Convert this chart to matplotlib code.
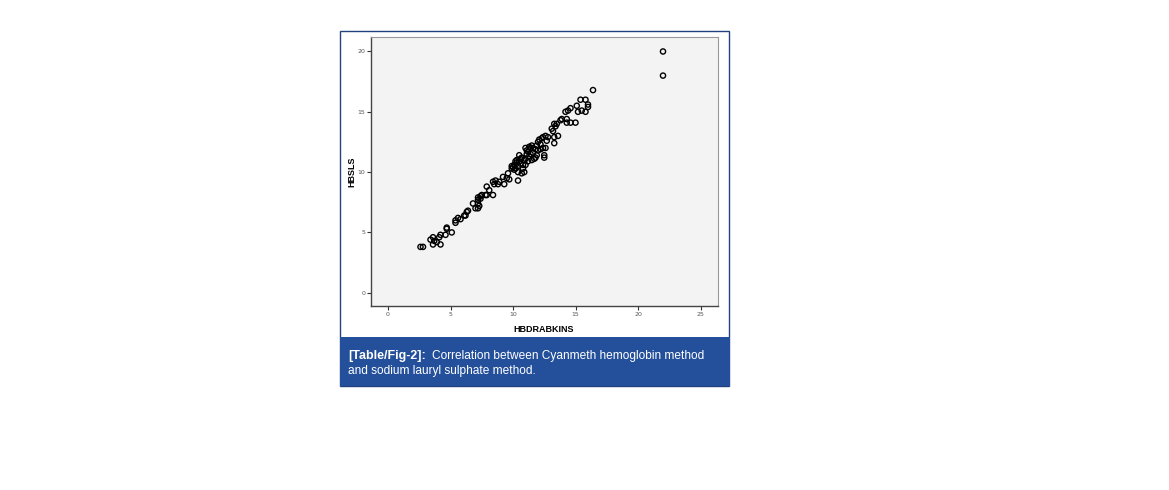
import matplotlib.pyplot as plt
from matplotlib.patches import Rectangle

# HB by Drabkin's (cyanmeth) method vs HB by sodium lauryl sulphate method
hb_drabkins = [
    2.6, 2.8, 3.4, 3.6, 3.7, 3.6, 3.9, 4.1, 4.2, 4.2, 4.6, 4.7, 4.7, 5.1,
    5.4, 5.4, 5.6, 5.8, 6.1, 6.2, 6.3, 6.4, 6.8, 7.0, 7.2, 7.2, 7.2, 7.2,
    7.3, 7.4, 7.4, 7.5, 7.8, 7.9, 8.1, 7.9, 8.4, 8.4, 8.5, 8.6, 8.8, 8.9,
    9.2, 9.3, 9.5, 9.6, 9.7, 9.9, 9.9, 10.0, 10.1, 10.2, 10.3, 10.3, 10.4,
    10.4, 10.4, 10.5, 10.5, 10.6, 10.6, 10.7, 10.8, 10.8, 10.9, 10.9, 11.0,
    11.0, 11.1, 11.1, 11.2, 11.2, 11.3, 11.4, 11.4, 11.5, 11.5, 11.6, 11.7,
    11.8, 11.9, 12.0, 12.0, 12.1, 12.2, 12.3, 12.4, 12.4, 12.5, 12.5, 12.6,
    12.6, 12.7, 10.2, 10.7, 11.3, 11.6, 11.9, 12.2, 11.0, 10.1, 12.8, 11.8,
    13.1, 13.2, 13.3, 13.3, 13.3, 13.4, 13.5, 13.6, 13.8, 13.9, 14.2, 14.3,
    14.3, 14.4, 14.6, 14.6, 15.0, 15.1, 15.2, 15.4, 15.5, 15.8, 15.8, 16.0,
    16.0, 16.4, 22.0, 22.0,
]
hb_sls = [
    3.8, 3.8, 4.4, 4.6, 4.3, 4.0, 4.2, 4.6, 4.8, 4.0, 4.8, 5.3, 5.4, 5.0,
    5.8, 6.0, 6.2, 6.1, 6.4, 6.4, 6.7, 6.8, 7.4, 7.0, 7.0, 7.4, 7.7, 7.9,
    7.2, 7.8, 8.0, 8.1, 8.1, 8.1, 8.5, 8.8, 8.1, 9.2, 9.0, 9.3, 9.0, 9.2,
    9.6, 9.0, 9.5, 9.9, 9.4, 10.3, 10.5, 10.4, 10.6, 10.3, 10.8, 11.0, 10.5,
    10.0, 9.3, 10.9, 11.4, 10.7, 11.1, 9.9, 10.3, 10.6, 11.0, 10.0, 11.1,
    12.0, 11.5, 11.8, 10.9, 11.7, 12.1, 12.0, 11.5, 11.0, 12.2, 11.6, 11.1,
    11.9, 12.2, 11.8, 12.5, 12.7, 12.3, 12.8, 12.9, 12.0, 11.4, 11.2, 12.0,
    13.0, 12.6, 10.9, 11.2, 11.3, 12.0, 11.4, 11.9, 10.6, 10.2, 12.9, 11.2,
    13.6, 13.4, 14.0, 12.9, 12.4, 13.8, 14.0, 13.0, 14.3, 14.4, 15.0, 14.4,
    14.1, 15.1, 14.1, 15.3, 14.1, 15.5, 15.0, 16.0, 15.1, 16.0, 15.0, 15.4,
    15.6, 16.8, 20.0, 18.0,
]

x_ticks = [0, 5, 10, 15, 20, 25]
y_ticks = [0, 5, 10, 15, 20]

W, H = 1169, 490
fig = plt.figure(figsize=(W / 100, H / 100), dpi=100)


# figure pixel box (top-left origin) -> figure fractions
def px(x0, y0, x1, y1):
    return (x0 / W, 1 - y1 / H), (x1 - x0) / W, (y1 - y0) / H


# outer panel frame and caption box, kept behind the axes
xy, w, h = px(339.5, 31.5, 729, 386)
fig.patches.append(Rectangle(xy, w, h, transform=fig.transFigure, zorder=-2,
                             facecolor="white", edgecolor="#23417f", linewidth=1.0))
xy, w, h = px(340, 337, 729.5, 386)
fig.patches.append(Rectangle(xy, w, h, transform=fig.transFigure, zorder=-1,
                             facecolor="#24509b", edgecolor="none"))

fig.text(348 / W, 1 - 356 / H, "[Table/Fig-2]:", color="white", fontsize=9,
         fontweight="bold", family="Liberation Sans", va="center")
fig.text(432 / W, 1 - 356 / H, "Correlation between Cyanmeth hemoglobin method",
         color="white", fontsize=8.6, family="Liberation Sans", va="center")
fig.text(348 / W, 1 - 371 / H, "and sodium lauryl sulphate method.",
         color="white", fontsize=8.6, family="Liberation Sans", va="center")

ax = fig.add_axes([371 / W, 1 - 306 / H, (718 - 371) / W, (306 - 37) / H])
ax.set_facecolor("#f3f3f3")
ax.scatter(hb_drabkins, hb_sls, s=14, facecolors="none", edgecolors="black",
           linewidths=1.0, zorder=3)

ax.set_xlim(-1.36, 26.4)
ax.set_ylim(-1.1, 21.2)
ax.set_xticks(x_ticks)
ax.set_yticks(y_ticks)
ax.tick_params(axis="both", direction="out", length=3, width=0.8, color="#333333",
               labelsize=4.5, labelcolor="#555555", pad=1)

for side in ["left", "bottom"]:
    ax.spines[side].set_color("#444444")
    ax.spines[side].set_linewidth(1.0)
for side in ["right", "top"]:
    ax.spines[side].set_color("#999999")
    ax.spines[side].set_linewidth(0.8)

ax.set_xlabel("HBDRABKINS", fontsize=6.5, fontweight="bold",
              family="Liberation Sans")
ax.set_ylabel("HBSLS", fontsize=6.5, fontweight="bold",
              family="Liberation Sans")
ax.xaxis.set_label_coords((544 - 371) / (718 - 371), -(325 - 306) / (306 - 37))
ax.yaxis.set_label_coords(-(371 - 356) / (718 - 371), (306 - 172) / (306 - 37))

fig.savefig("out.png", dpi=100)
